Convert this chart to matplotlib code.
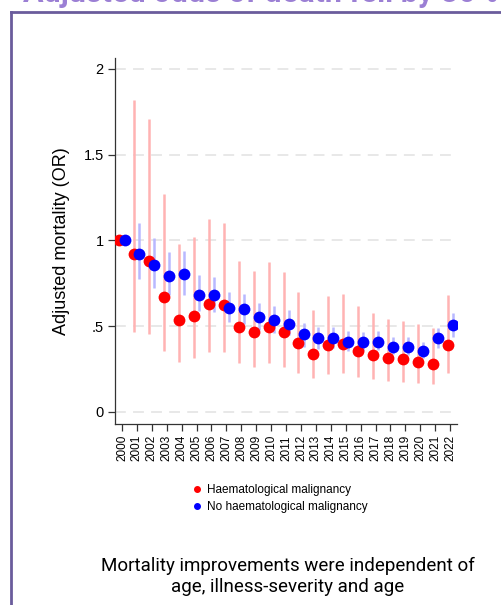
import matplotlib
matplotlib.use("Agg")
import matplotlib.pyplot as plt
from matplotlib.lines import Line2D
import numpy as np

# adjusted odds ratios by year
years = list(range(2000, 2023))
haem_or = [1.0, 0.92, 0.88, 0.672, 0.536, 0.562, 0.628, 0.622, 0.497, 0.466, 0.496, 0.466,
           0.40, 0.340, 0.389, 0.395, 0.354, 0.331, 0.313, 0.307, 0.293, 0.280, 0.392]
haem_hi = [1.0, 1.82, 1.709, 1.271, 0.98, 1.018, 1.125, 1.104, 0.882, 0.822, 0.873, 0.818,
           0.702, 0.595, 0.676, 0.688, 0.618, 0.575, 0.544, 0.532, 0.511, 0.488, 0.680]
haem_lo = [1.0, 0.465, 0.455, 0.357, 0.293, 0.313, 0.352, 0.350, 0.284, 0.264, 0.284, 0.264,
           0.229, 0.196, 0.222, 0.226, 0.206, 0.190, 0.181, 0.177, 0.167, 0.161, 0.229]
nohaem_or = [1.0, 0.921, 0.859, 0.795, 0.806, 0.684, 0.680, 0.606, 0.599, 0.552, 0.535, 0.515,
             0.453, 0.430, 0.431, 0.408, 0.406, 0.408, 0.381, 0.381, 0.358, 0.430, 0.505]
nohaem_hi = [1.0, 1.10, 1.016, 0.935, 0.937, 0.799, 0.787, 0.702, 0.688, 0.637, 0.616, 0.595,
             0.521, 0.494, 0.494, 0.470, 0.465, 0.470, 0.439, 0.435, 0.410, 0.492, 0.579]
nohaem_lo = [1.0, 0.774, 0.725, 0.680, 0.682, 0.591, 0.585, 0.527, 0.513, 0.478, 0.462, 0.449,
             0.377, 0.366, 0.371, 0.358, 0.358, 0.362, 0.338, 0.334, 0.313, 0.371, 0.439]
ytick_vals = [0, 0.5, 1, 1.5, 2]
ytick_labels = ["0", ".5", "1", "1.5", "2"]
labels = ["Haematological malignancy", "No haematological malignancy"]

plt.rcParams["font.family"] = ["Liberation Sans", "DejaVu Sans"]

fig = plt.figure(figsize=(5.01, 6.05), dpi=100)
ax = fig.add_axes([0.2295, 0.2992, 0.683, 0.605])

yrs = np.array(years)
off = 0.17
# confidence intervals (skip reference year)
ax.vlines(yrs[1:] - off, haem_lo[1:], haem_hi[1:], color=(1, 0.7, 0.7), lw=1.8, zorder=2)
ax.vlines(yrs[1:] + off, nohaem_lo[1:], nohaem_hi[1:], color=(0.72, 0.72, 1), lw=1.8, zorder=2)
ax.plot(yrs - off, haem_or, "o", color="#ff0000", ms=8.5, mew=0, zorder=3)
ax.plot(yrs + off, nohaem_or, "o", color="#0000ff", ms=8.5, mew=0, zorder=4)

ax.set_xlim(1999.53, 2022.47)
ax.set_ylim(-0.07, 2.064)
ax.set_yticks(ytick_vals)
ax.set_yticklabels(ytick_labels, fontsize=10.5)
ax.set_xticks(years)
ax.set_xticklabels([str(y) for y in years], rotation=90, fontsize=8.5)
for v in ytick_vals:
    ax.axhline(v, color="#e6e6e6", lw=1.3, ls=(0, (6, 4)), zorder=1)
ax.tick_params(axis="both", length=5, width=0.9, color="#333333", pad=3)
for s in ["top", "right"]:
    ax.spines[s].set_visible(False)
for s in ["left", "bottom"]:
    ax.spines[s].set_color("#333333")
    ax.spines[s].set_linewidth(0.9)
ax.set_ylabel("Adjusted mortality (OR)", fontsize=13, labelpad=10)

handles = [Line2D([], [], marker="o", ls="", color="#ff0000", ms=4),
           Line2D([], [], marker="o", ls="", color="#0000ff", ms=4)]
fig.legend(handles, labels, loc="center left", bbox_to_anchor=(0.37, 0.176),
           frameon=False, fontsize=8.5, handletextpad=0.2, labelspacing=0.45,
           handlelength=1.2, borderaxespad=0)

fig.text(0.575, 0.047, "Mortality improvements were independent of\nage, illness-severity and age",
         ha="center", va="center", fontsize=13.5, family="Roboto", linespacing=1.2)

# slide title (cut off at top) and frame
fig.text(0.045, 0.997, "Adjusted odds of death fell by 30%", ha="left", va="baseline",
         fontsize=22, fontweight="bold", color="#9b7fd4", family="Roboto")
fig.add_artist(Line2D([0.021, 1.0], [0.98, 0.98], color="#6a5c9c", lw=2, transform=fig.transFigure))
fig.add_artist(Line2D([0.021, 0.021], [0.98, 0.0], color="#6a5c9c", lw=2, transform=fig.transFigure))

fig.savefig("out.png", dpi=100)
